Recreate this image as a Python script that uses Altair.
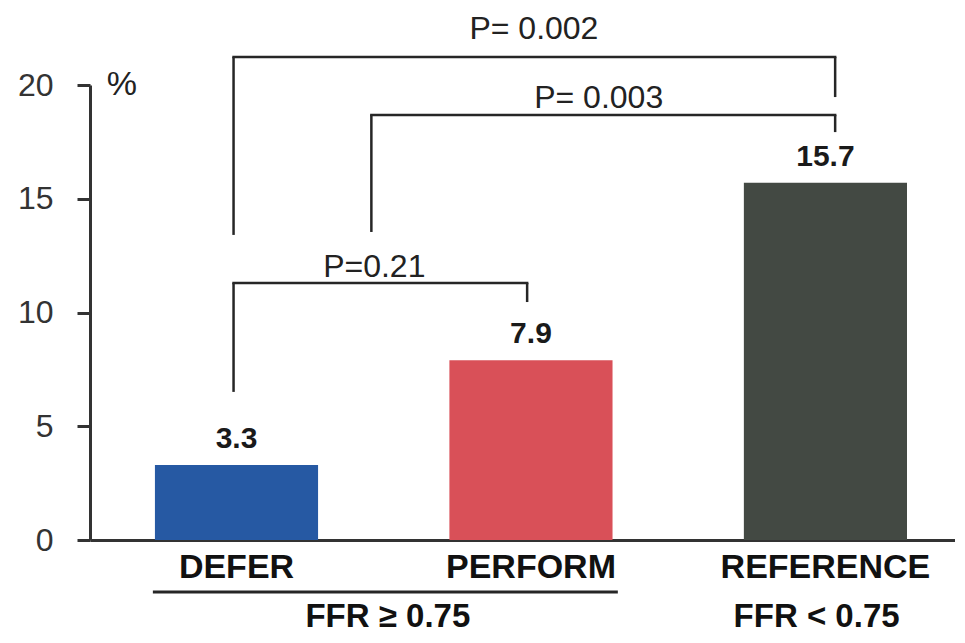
import altair as alt
import pandas as pd

# ---- data ----
categories = ["DEFER", "PERFORM", "REFERENCE"]
values = [3.3, 7.9, 15.7]
positions = [0, 1, 2]
bar_colors = ["#2659a3", "#d95058", "#434943"]
value_labels = ["3.3", "7.9", "15.7"]

group_labels = ["FFR \u2265 0.75", "FFR < 0.75"]
group_x = [0.514, 1.97]
group_y = [-3.84, -3.84]
underline_x = [-0.284]
underline_x2 = [1.295]
underline_y = [-2.29]
category_label_y = -1.67

# significance brackets
p_labels = ["P= 0.002", "P= 0.003", "P=0.21"]
br_left = [-0.01, 0.458, -0.01]
br_right = [2.033, 2.033, 0.987]
br_top = [21.23, 18.68, 11.30]
br_left_bottom = [13.41, 13.54, 6.51]
br_right_bottom = [19.47, 17.93, 10.46]
p_text_x = [1.01, 1.23, 0.468]
p_text_y = [22.02, 18.99, 11.56]

y_ticks = [0, 5, 10, 15, 20]
unit_label = "%"
unit_x = [-0.389]
unit_y = [19.56]

BAR_HALF = 0.277
FONT = "Liberation Sans"
AXIS_COLOR = "#333333"
LINE_COLOR = "#262626"

bars = pd.DataFrame({
    "cat": categories,
    "value": values,
    "pos": positions,
    "label": value_labels,
})
bars["x0"] = bars["pos"] - BAR_HALF
bars["x1"] = bars["pos"] + BAR_HALF
bars["base"] = 0.0
bars["laby"] = category_label_y

brackets = pd.DataFrame({
    "label": p_labels,
    "left": br_left,
    "right": br_right,
    "top": br_top,
    "lb": br_left_bottom,
    "rb": br_right_bottom,
    "tx": p_text_x,
    "ty": p_text_y,
})

groups = pd.DataFrame({"label": group_labels, "x": group_x, "y": group_y})
underline = pd.DataFrame({"x": underline_x, "x2": underline_x2, "y": underline_y})
unit = pd.DataFrame({"label": [unit_label], "x": unit_x, "y": unit_y})

xs = alt.Scale(domain=[-0.4975, 2.44], nice=False, zero=False)
ys = alt.Scale(domain=[0, 20], nice=False)

x_axis = alt.Axis(labels=False, ticks=False, grid=False, title=None,
                  domainWidth=3, domainColor=AXIS_COLOR)
y_axis = alt.Axis(values=y_ticks, grid=False, title=None, tickSize=13,
                  tickWidth=3, tickColor=AXIS_COLOR, domainWidth=3,
                  domainColor=AXIS_COLOR, labelFont=FONT, labelFontSize=32,
                  labelColor="#333333", labelPadding=24)


def X(field):
    return alt.X(field, scale=xs, axis=x_axis)


def Y(field):
    return alt.Y(field, scale=ys, axis=y_axis)


bar_layer = alt.Chart(bars).mark_rect().encode(
    x=X("x0:Q"),
    x2="x1:Q",
    y=Y("value:Q"),
    y2="base:Q",
    color=alt.Color("cat:N", scale=alt.Scale(domain=categories, range=bar_colors), legend=None),
)

value_text = alt.Chart(bars).mark_text(
    font=FONT, fontSize=30, fontWeight="bold", color="#1a1a1a",
    baseline="alphabetic", dy=-17
).encode(x=X("pos:Q"), y=Y("value:Q"), text="label:N")

cat_text = alt.Chart(bars).mark_text(
    font=FONT, fontSize=34, fontWeight="bold", color="#111111",
    baseline="alphabetic"
).encode(x=X("pos:Q"), y=Y("laby:Q"), text="cat:N")

group_text = alt.Chart(groups).mark_text(
    font=FONT, fontSize=33, fontWeight="bold", color="#111111",
    baseline="alphabetic"
).encode(x=X("x:Q"), y=Y("y:Q"), text="label:N")

underline_rule = alt.Chart(underline).mark_rule(strokeWidth=3, color=LINE_COLOR).encode(
    x=X("x:Q"), x2="x2:Q", y=Y("y:Q"),
)

br_h = alt.Chart(brackets).mark_rule(strokeWidth=2.5, color=LINE_COLOR, strokeCap="square").encode(
    x=X("left:Q"), x2="right:Q", y=Y("top:Q"),
)
br_l = alt.Chart(brackets).mark_rule(strokeWidth=2.5, color=LINE_COLOR).encode(
    x=X("left:Q"), y=Y("top:Q"), y2="lb:Q",
)
br_r = alt.Chart(brackets).mark_rule(strokeWidth=2.5, color=LINE_COLOR).encode(
    x=X("right:Q"), y=Y("top:Q"), y2="rb:Q",
)
p_text = alt.Chart(brackets).mark_text(
    font=FONT, fontSize=32, color="#222222", baseline="alphabetic"
).encode(x=X("tx:Q"), y=Y("ty:Q"), text="label:N")

unit_text = alt.Chart(unit).mark_text(
    font=FONT, fontSize=34, color="#222222", baseline="alphabetic"
).encode(x=X("x:Q"), y=Y("y:Q"), text="label:N")

chart = alt.layer(
    bar_layer, value_text, cat_text, group_text, underline_rule,
    br_h, br_l, br_r, p_text, unit_text
).properties(
    width=865, height=455,
    autosize=alt.AutoSizeParams(type="none"),
    padding={"left": 82, "top": 77, "right": 0, "bottom": 95},
    background="white",
).configure_view(stroke=None)

chart.save("out.html", embed_options={"renderer": "svg", "actions": False})
